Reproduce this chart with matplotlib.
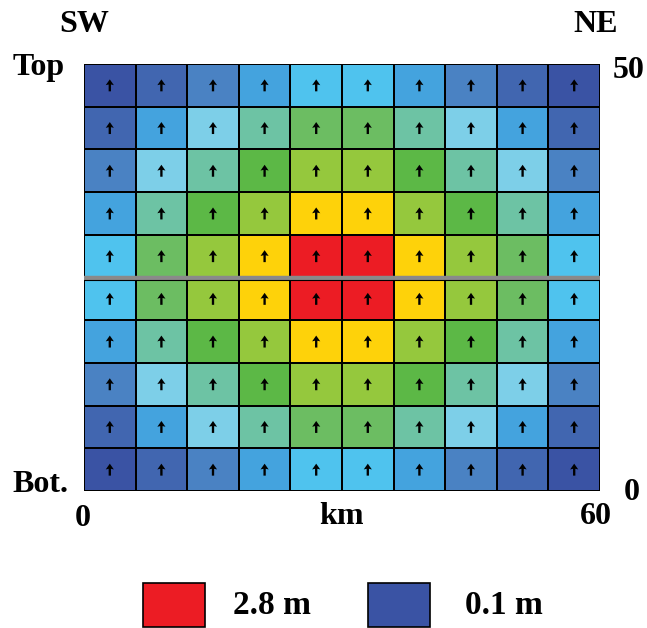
import matplotlib
matplotlib.use("Agg")
import matplotlib.pyplot as plt
import numpy as np
from matplotlib.colors import ListedColormap, BoundaryNorm
from matplotlib.patches import Rectangle

W, H = 647, 628  # 出图像素尺寸

# 断层面滑移量 (m)，行从上 (Top) 到下 (Bot.)，列从 SW 到 NE
slip = [
    [0.1, 0.3, 0.5, 0.7, 0.9, 0.9, 0.7, 0.5, 0.3, 0.1],
    [0.3, 0.7, 1.1, 1.3, 1.6, 1.6, 1.3, 1.1, 0.7, 0.3],
    [0.5, 1.1, 1.3, 1.9, 2.2, 2.2, 1.9, 1.3, 1.1, 0.5],
    [0.7, 1.3, 1.9, 2.2, 2.5, 2.5, 2.2, 1.9, 1.3, 0.7],
    [0.9, 1.6, 2.2, 2.5, 2.8, 2.8, 2.5, 2.2, 1.6, 0.9],
    [0.9, 1.6, 2.2, 2.5, 2.8, 2.8, 2.5, 2.2, 1.6, 0.9],
    [0.7, 1.3, 1.9, 2.2, 2.5, 2.5, 2.2, 1.9, 1.3, 0.7],
    [0.5, 1.1, 1.3, 1.9, 2.2, 2.2, 1.9, 1.3, 1.1, 0.5],
    [0.3, 0.7, 1.1, 1.3, 1.6, 1.6, 1.3, 1.1, 0.7, 0.3],
    [0.1, 0.3, 0.5, 0.7, 0.9, 0.9, 0.7, 0.5, 0.3, 0.1],
]
rake = 90  # 滑动角 (度)，全部为逆冲
length_km = 60
width_km = 50
legend_vals = [2.8, 0.1]

# 色标分级
colors = ["#3a53a4", "#4166b0", "#4a82c3", "#44a3de", "#4fc3ee", "#7dcfe8",
          "#6dc3a4", "#6cbd62", "#5cb846", "#95c83d", "#fed20a", "#ec1c24"]
bounds = [0, 0.2, 0.4, 0.6, 0.8, 1.0, 1.2, 1.45, 1.75, 2.05, 2.35, 2.65, 3.0]
cmap = ListedColormap(colors)
norm = BoundaryNorm(bounds, cmap.N)

S = np.array(slip)[::-1]  # 转成自下而上
ny, nx = S.shape
xe = np.linspace(0, length_km, nx + 1)
ye = np.linspace(0, width_km, ny + 1)

fig = plt.figure(figsize=(W / 100, H / 100), dpi=100)
ax = fig.add_axes([84 / W, 1 - 491 / H, 516 / W, 427 / H])
ax.pcolormesh(xe, ye, S, cmap=cmap, norm=norm, edgecolors="k", linewidth=1.3)

# 中间的灰色双线
ax.axhline(width_km / 2, color="#8a8a8a", linewidth=3.2, zorder=3)
ax.axhline(width_km / 2 - 0.25, color="k", linewidth=0.8, zorder=3)

# 滑动方向箭头
xc = (xe[:-1] + xe[1:]) / 2
yc = (ye[:-1] + ye[1:]) / 2
XX, YY = np.meshgrid(xc, yc)
U = np.cos(np.radians(rake)) * np.ones_like(S)
V = np.sin(np.radians(rake)) * np.ones_like(S) * 1.4
ax.quiver(XX, YY, U, V, angles="xy", scale_units="xy", scale=1, pivot="middle",
          width=0.0045, headwidth=3.5, headlength=2.5, headaxislength=2.2,
          color="k", zorder=4)

ax.set_xlim(0, length_km)
ax.set_ylim(0, width_km)
ax.axis("off")

font = dict(family="Liberation Serif", fontweight="bold")


def label(x, y, s, size=23):
    fig.text(x / W, 1 - y / H, s, ha="center", va="center", fontsize=size, **font)


label(84, 25, "SW")
label(596, 24, "NE")
label(39, 67, "Top")
label(629, 70, "50")
label(40, 484, "Bot.")
label(632, 493, "0")
label(83, 518, "0")
label(341, 517, "km")
label(596, 516, "60")

# 图例
for i, (x0, tx) in enumerate([(143, 272), (368, 504)]):
    c = cmap(norm(legend_vals[i]))
    fig.add_artist(Rectangle((x0 / W, 1 - 627 / H), 62 / W, 44 / H,
                             transform=fig.transFigure, facecolor=c,
                             edgecolor="k", linewidth=1.2))
    label(tx, 606, f"{legend_vals[i]} m", size=24)

fig.savefig("out.png", dpi=100)
